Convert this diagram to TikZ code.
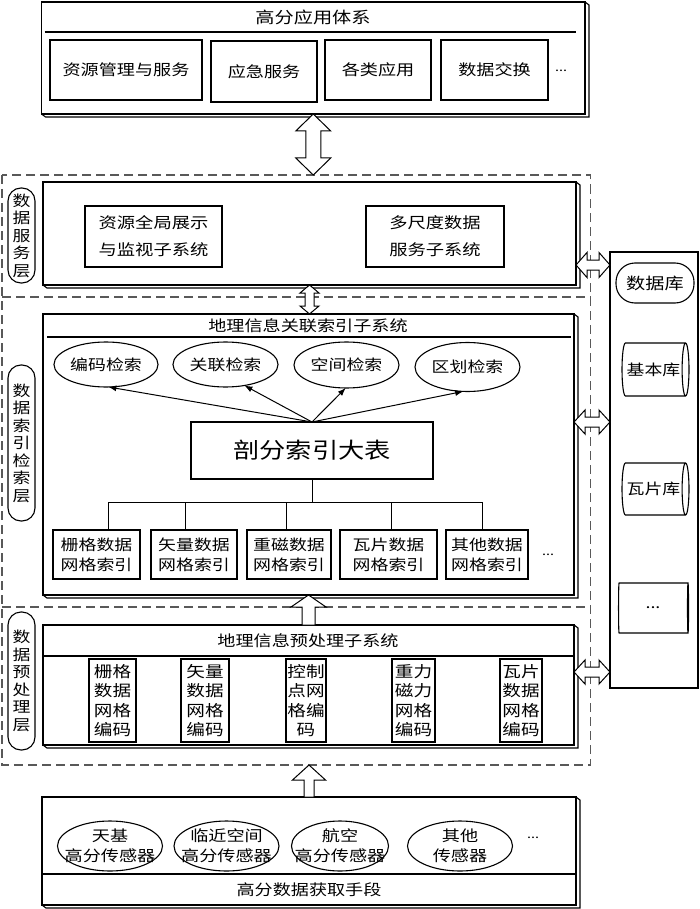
\documentclass[tikz,border=0pt]{standalone}
\usepackage{fontspec}
\setmainfont{Noto Sans CJK SC}[FakeStretch=1.2]
\usetikzlibrary{shapes.geometric,arrows.meta,calc}
\newcommand\fs[2]{\fontsize{#1pt}{#2pt}\selectfont}
\tikzset{
  base/.style={inner sep=0pt, outer sep=0pt, line width=1.1pt},
  bx/.style={base, draw, rectangle, align=center},
  ell/.style={base, draw, ellipse},
  txt/.style={inner sep=0pt, align=center},
  pill/.style={base, draw, rectangle, rounded corners=13pt, align=center, minimum width=27pt, font=\fs{14.9}{17.5}},
  layerbox/.style={base, rectangle, minimum width=588.5pt},
  layer/.style={draw=black!65, dash pattern=on 9pt off 5pt, line width=1.4pt},
  cyl/.style={base, draw, cylinder, aspect=0.5, font=\fs{14.9}{17}},
  conn/.style={line width=1pt},
  arr/.style={conn, -{Latex[length=8pt,width=6pt]}},
  hollow/.style={draw, fill=white, line width=1pt, line join=miter},
}
\newcommand\extrude[1]{\draw[line width=1.1pt] (#1.north east) -- ++(4,3) -- ($(#1.south east)+(4,3)$) -- ($(#1.south west)+(4,3)$) -- (#1.south west);}
% vertical double arrow: top point, bottom point, shaft half, head half, head length
\newcommand\VDArrow[5]{\draw[hollow] let \p1=(#1), \p2=(#2) in
  (\x1,\y1) -- (\x1+#4,\y1-#5) -- (\x1+#3,\y1-#5) -- (\x1+#3,\y2+#5) -- (\x1+#4,\y2+#5) -- (\x1,\y2)
  -- (\x1-#4,\y2+#5) -- (\x1-#3,\y2+#5) -- (\x1-#3,\y1-#5) -- (\x1-#4,\y1-#5) -- cycle;}
% upward single arrow: tip point, base point
\newcommand\UpArrow[5]{\draw[hollow] let \p1=(#1), \p2=(#2) in
  (\x1,\y1) -- (\x1+#4,\y1-#5) -- (\x1+#3,\y1-#5) -- (\x1+#3,\y2) -- (\x1-#3,\y2)
  -- (\x1-#3,\y1-#5) -- (\x1-#4,\y1-#5) -- cycle;}
% horizontal double arrow: left point, right point
\newcommand\HDArrow[5]{\draw[hollow] let \p1=(#1), \p2=(#2) in
  (\x1,\y1) -- (\x1+#5,\y1+#4) -- (\x1+#5,\y1+#3) -- (\x2-#5,\y1+#3) -- (\x2-#5,\y1+#4) -- (\x2,\y1)
  -- (\x2-#5,\y1-#4) -- (\x2-#5,\y1-#3) -- (\x1+#5,\y1-#3) -- (\x1+#5,\y1-#4) -- cycle;}
\begin{document}
\begin{tikzpicture}[x=1pt,y=-1pt]
\useasboundingbox (0,0) rectangle (700,909);

% ---------- dashed layers ----------
\node[layerbox, minimum height=122pt] (Lsvc) at (296.25,236) {};
\node[layerbox, minimum height=310pt] (Lidx) at (296.25,452) {};
\node[layerbox, minimum height=158pt] (Lpre) at (296.25,686) {};
\draw[layer] (Lsvc.north west) rectangle (Lpre.south east);
\draw[layer] (Lidx.north west) -- (Lidx.north east);
\draw[layer] (Lidx.south west) -- (Lidx.south east);

% ---------- top application box ----------
\node[bx, minimum width=543.5pt, minimum height=112pt] (app) at (313.25,58) {};
\extrude{app}
\node[txt, font=\fs{16}{18}] (appT) at (313,17) {高分应用体系};
\draw[line width=1.1pt] ($(app.north west)+(3,30)$) -- ($(app.north east)+(-9,30)$);
\node[bx, font=\fs{15.1}{17}, minimum width=152pt, minimum height=60pt] (a1) at (126,70) {资源管理与服务};
\node[bx, font=\fs{15.1}{17}, minimum width=106pt, minimum height=61pt] (a2) at (264,71.5) {应急服务};
\node[bx, font=\fs{15.1}{17}, minimum width=106pt, minimum height=60pt] (a3) at (378,70) {各类应用};
\node[bx, font=\fs{15.1}{17}, minimum width=107pt, minimum height=60pt] (a4) at (494.5,70) {数据交换};
\node[txt, font=\fs{12}{14}] (adots) at (561,71) {...};

% ---------- service layer ----------
\node[bx, minimum width=533pt, minimum height=103pt] (svc) at (309.5,233.5) {};
\extrude{svc}
\node[bx, font=\fs{15.25}{27}, minimum width=137pt, minimum height=61pt] (s1) at (153.5,236.5) {资源全局展示\\与监视子系统};
\node[bx, font=\fs{15.25}{27}, minimum width=138pt, minimum height=61pt] (s2) at (435,236.5) {多尺度数据\\服务子系统};
\node[pill, minimum height=95pt] (p1) at (21.5,235.5) {数\\据\\服\\务\\层};

% ---------- database ----------
\node[bx, minimum width=88pt, minimum height=436pt] (db) at (654,470) {};
\node[bx, rounded corners=19pt, font=\fs{16}{18}, minimum width=78pt, minimum height=40pt] (dbp) at (655,283) {数据库};
\node[cyl, minimum height=67pt, minimum width=53pt] (c1) at (653.5,369.5) {基本库};
\node[cyl, minimum height=67pt, minimum width=52pt] (c2) at (653.5,489) {瓦片库};
\node[cyl, minimum height=70pt, minimum width=50pt] (c3) at (653,608) {...};

% ---------- index layer ----------
\node[bx, minimum width=531pt, minimum height=281pt] (idx) at (308.5,454.5) {};
\extrude{idx}
\node[txt, font=\fs{15.1}{17}] (idxT) at (308,326) {地理信息关联索引子系统};
\draw[line width=1.1pt] ($(idx.north west)+(4,23)$) -- ($(idx.north east)+(-3,23)$);
\node[ell, minimum width=104pt, minimum height=45pt] (e1) at (106,364.5) {};
\node[ell, minimum width=105pt, minimum height=45pt] (e2) at (225.5,364.5) {};
\node[ell, minimum width=105pt, minimum height=46pt] (e3) at (346.5,365) {};
\node[ell, minimum width=105pt, minimum height=49pt] (e4) at (467.5,367) {};
\node[txt, font=\fs{14.9}{17}] at (e1.center) {编码检索};
\node[txt, font=\fs{14.9}{17}] at (e2.center) {关联检索};
\node[txt, font=\fs{14.9}{17}] at (e3.center) {空间检索};
\node[txt, font=\fs{14.9}{17}] at (e4.center) {区划检索};
\node[bx, font=\fs{21.9}{24}, minimum width=242pt, minimum height=57pt] (big) at (312,450.5) {剖分索引大表};
\draw[arr] (big.north) -- (e1.-84);
\draw[arr] (big.north) -- (e2.-48);
\draw[arr] (big.north) -- (e3.-92);
\draw[arr] (big.north) -- (e4.-100);
\node[bx, font=\fs{14.9}{20}, minimum width=87pt, minimum height=49pt] (i1) at (96.5,554.5) {栅格数据\\网格索引};
\node[bx, font=\fs{14.9}{20}, minimum width=86pt, minimum height=49pt] (i2) at (194,554.5) {矢量数据\\网格索引};
\node[bx, font=\fs{14.9}{20}, minimum width=84pt, minimum height=49pt] (i3) at (289,554.5) {重磁数据\\网格索引};
\node[bx, font=\fs{14.9}{20}, minimum width=97pt, minimum height=49pt] (i4) at (388.5,554.5) {瓦片数据\\网格索引};
\node[bx, font=\fs{14.9}{20}, minimum width=82pt, minimum height=49pt] (i5) at (487,554.5) {其他数据\\网格索引};
\node[txt, font=\fs{12}{14}] (idots) at (548,555) {...};
\coordinate (bj) at (312,502);
\coordinate (q1) at (108,502);
\coordinate (q2) at (185,502);
\coordinate (q3) at (286,502);
\coordinate (q4) at (391.5,502);
\coordinate (q5) at (482,502);
\draw[conn] (big.south) -- (bj);
\draw[conn] (q1) -- (q5);
\draw[conn] (q1) -- (q1 |- i1.north);
\draw[conn] (q2) -- (q2 |- i2.north);
\draw[conn] (q3) -- (q3 |- i3.north);
\draw[conn] (q4) -- (q4 |- i4.north);
\draw[conn] (q5) -- (q5 |- i5.north);
\node[pill, minimum height=156pt] (p2) at (21.5,443) {数\\据\\索\\引\\检\\索\\层};

% ---------- preprocessing layer ----------
\node[bx, minimum width=531pt, minimum height=120pt] (pre) at (308.5,685) {};
\extrude{pre}
\node[txt, font=\fs{15.1}{17}] (preT) at (308,641) {地理信息预处理子系统};
\draw[line width=1.1pt] ($(pre.north west)+(0,31)$) -- ($(pre.north east)+(0,31)$);
\node[bx, font=\fs{15.5}{19.3}, minimum width=47pt, minimum height=83pt] (v1) at (112.5,700.5) {栅格\\数据\\网格\\编码};
\node[bx, font=\fs{15.5}{19.3}, minimum width=48pt, minimum height=83pt] (v2) at (205,700.5) {矢量\\数据\\网格\\编码};
\node[bx, font=\fs{15.5}{19.3}, minimum width=40pt, minimum height=83pt] (v3) at (306,700.5) {控制\\点网\\格编\\码};
\node[bx, font=\fs{15.5}{19.3}, minimum width=43pt, minimum height=83pt] (v4) at (413.5,700.5) {重力\\磁力\\网格\\编码};
\node[bx, font=\fs{15.5}{19.3}, minimum width=42pt, minimum height=83pt] (v5) at (521,700.5) {瓦片\\数据\\网格\\编码};
\node[pill, minimum height=138pt] (p3) at (21.5,681) {数\\据\\预\\处\\理\\层};

% ---------- acquisition ----------
\node[bx, minimum width=534pt, minimum height=108pt] (acq) at (309,851) {};
\extrude{acq}
\draw[line width=1.1pt] ($(acq.south west)+(0,-31)$) -- ($(acq.south east)+(0,-31)$);
\node[txt, font=\fs{15.1}{17}] (acqT) at (309,890) {高分数据获取手段};
\node[ell, minimum width=105pt, minimum height=50pt] (f1) at (110,846) {};
\node[ell, minimum width=105pt, minimum height=50pt] (f2) at (226.5,846) {};
\node[ell, minimum width=97pt, minimum height=50pt] (f3) at (340,846) {};
\node[ell, minimum width=105pt, minimum height=50pt] (f4) at (460,846) {};
\node[txt, font=\fs{15.1}{20}] at (f1.center) {天基\\高分传感器};
\node[txt, font=\fs{15.1}{20}] at (f2.center) {临近空间\\高分传感器};
\node[txt, font=\fs{15.1}{20}] at (f3.center) {航空\\高分传感器};
\node[txt, font=\fs{15.1}{20}] at (f4.center) {其他\\传感器};
\node[txt, font=\fs{12}{14}] (fdots) at (533,838) {...};

% ---------- hollow arrows ----------
\VDArrow{app.south}{Lsvc.north}{7.5pt}{17.5pt}{17pt}
\VDArrow{svc.south}{idx.north}{4.5pt}{9.5pt}{8pt}
\UpArrow{idx.south}{pre.north}{6.5pt}{17.5pt}{12pt}
\UpArrow{Lpre.south -| acq.north}{acq.north}{5pt}{16.5pt}{15pt}
\HDArrow{[yshift=-31.5pt]svc.east}{db.west}{5pt}{12.5pt}{11pt}
\HDArrow{[yshift=32.5pt]idx.east}{db.west}{5pt}{12pt}{11pt}
\HDArrow{[yshift=13pt]pre.east}{db.west}{5pt}{12pt}{11pt}
\end{tikzpicture}
\end{document}
